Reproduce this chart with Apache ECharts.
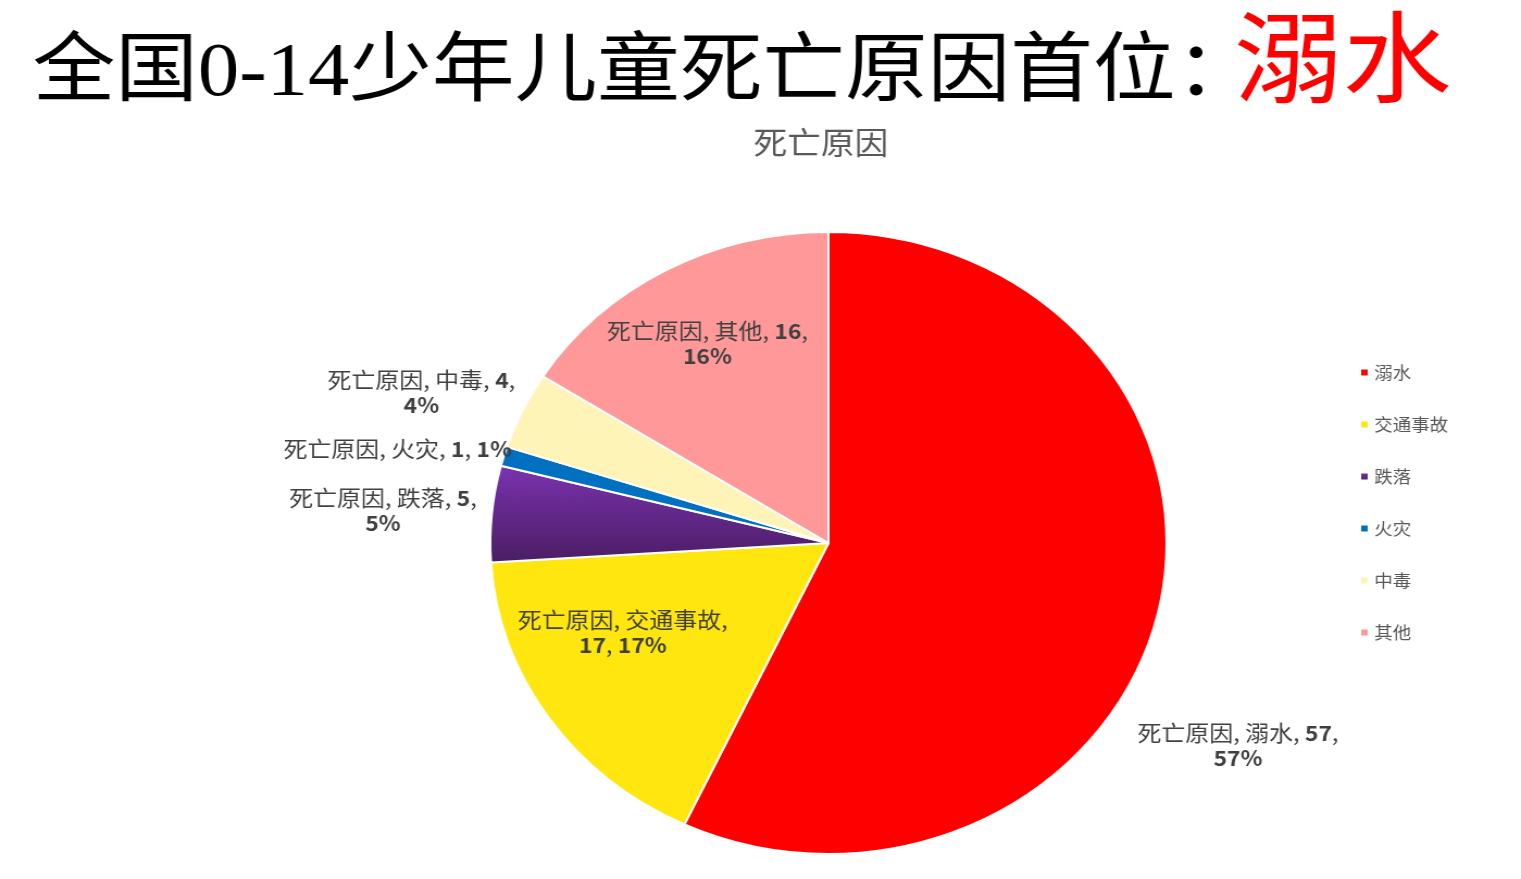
<!DOCTYPE html>
<html>
<head>
<meta charset="utf-8">
<title>死亡原因</title>
<script src="https://cdn.jsdelivr.net/npm/echarts@6/dist/echarts.min.js"></script>
<style>
  html, body { margin: 0; padding: 0; background: #fff; overflow: hidden; }
  /* the source picture is stretched horizontally, so the whole chart is too */
  #main { width: 1399px; height: 879px; transform: scaleX(1.0872); transform-origin: 0 0; }
</style>
</head>
<body>
<div id="main"></div>
<script>
// data
var seriesName = '死亡原因';
var causes = ['溺水', '交通事故', '跌落', '火灾', '中毒', '其他'];
var deaths = [57, 17, 5, 1, 4, 16];

// styling
var sliceColors = ['#FF0000', '#FFE60F', 'purple', '#0070C0', '#FFF4B8', '#FF9999'];
var labelWrap = ['value', 'name', 'value', 'none', 'value', 'value'];
var labelNudge = [[222, 168], [-58, 0], [-252, -18], [-244, -50], [-231, -83], [-35, -61]];

var myChart = echarts.init(document.getElementById('main'), null, { width: 1399, height: 879 });

var purpleFill = new echarts.graphic.LinearGradient(0, 0, 0, 1, [
    { offset: 0, color: '#7B33B0' },
    { offset: 1, color: '#4A1D63' }
]);

var pieData = causes.map(function (c, i) {
    return {
        name: c,
        value: deaths[i],
        itemStyle: { color: sliceColors[i] === 'purple' ? purpleFill : sliceColors[i] }
    };
});

function labelText(p) {
    var pct = Math.round(p.percent);
    var wrap = labelWrap[p.dataIndex];
    var s = p.seriesName + ', ' + p.name + ',';
    if (wrap === 'name') {
        return s + '\n{n|' + p.value + '}, {n|' + pct + '%}';
    }
    if (wrap === 'none') {
        return s + ' {n|' + p.value + '}, {n|' + pct + '%}';
    }
    return s + ' {n|' + p.value + '},\n{n|' + pct + '%}';
}

var titleFont = "'Liberation Serif', 'Noto Sans CJK SC', serif";

var option = {
    animation: false,
    backgroundColor: '#fff',
    title: [
        {
            text: '全国0-14少年儿童死亡原因首位：',
            left: 30, top: 37, padding: 0,
            textStyle: { fontFamily: titleFont, fontSize: 76, fontWeight: 'normal', color: '#000' }
        },
        {
            text: '溺水',
            left: 1135, top: 19, padding: 0,
            textStyle: { fontFamily: titleFont, fontSize: 100, fontWeight: 'normal', color: '#FF0000' }
        },
        {
            text: seriesName,
            left: 755, top: 127, padding: 0, textAlign: 'center',
            textStyle: { fontFamily: 'Noto Sans CJK SC', fontSize: 31, fontWeight: 'normal', color: '#595959' }
        }
    ],
    legend: {
        orient: 'vertical',
        left: 1245,
        top: 359,
        itemGap: 35,
        itemWidth: 8,
        itemHeight: 8,
        icon: 'rect',
        data: causes,
        textStyle: { fontFamily: 'Noto Sans CJK SC', fontSize: 17, color: '#595959' }
    },
    series: [{
        name: seriesName,
        type: 'pie',
        center: [762, 543],
        radius: 311,
        startAngle: 90,
        clockwise: true,
        avoidLabelOverlap: false,
        itemStyle: { borderColor: '#fff', borderWidth: 2 },
        label: {
            show: true,
            position: 'inside',
            formatter: labelText,
            fontFamily: 'Noto Sans CJK SC',
            fontSize: 22,
            lineHeight: 25,
            color: '#404040',
            align: 'center',
            rich: {
                n: { fontFamily: 'Noto Sans CJK SC', fontSize: 21, lineHeight: 25, fontWeight: 'bold', color: '#404040' }
            }
        },
        labelLine: { show: false },
        labelLayout: function (params) {
            var d = labelNudge[params.dataIndex];
            return { dx: d[0], dy: d[1] };
        },
        emphasis: { disabled: true },
        data: pieData
    }]
};

myChart.setOption(option);
</script>
</body>
</html>
